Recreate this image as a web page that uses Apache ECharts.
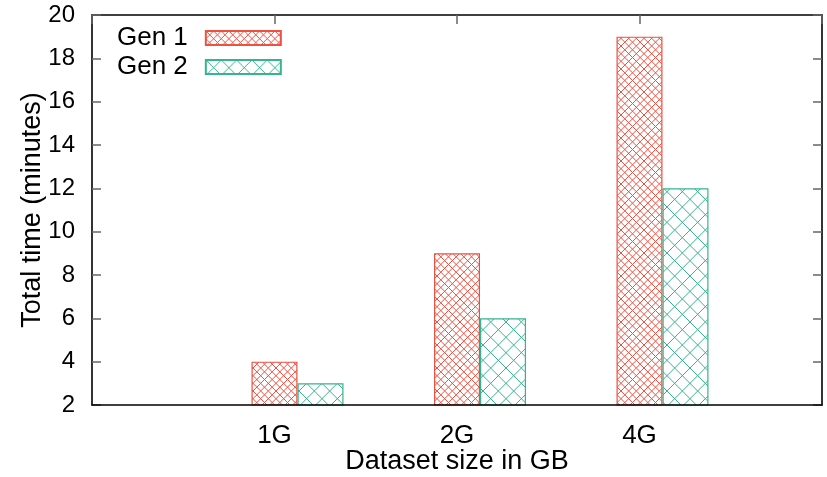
<!DOCTYPE html>
<html>
<head>
<meta charset="utf-8">
<script src="https://cdn.jsdelivr.net/npm/echarts@6/dist/echarts.min.js"></script>
<style>
  html, body { margin: 0; padding: 0; background: #fff; }
  #chart { width: 827px; height: 477px; }
</style>
</head>
<body>
<div id="chart"></div>
<script>
// data
const categories = ['1G', '2G', '4G'];
const gen1Values = [4, 9, 19];
const gen2Values = [3, 6, 12];
const yTicks = { min: 2, max: 20, step: 2 };

const RED = '#ee5041';
const GREEN = '#35b48e';
const FONT = '"Liberation Sans", Arial, Helvetica, sans-serif';

// empty slot on each side so the categories sit at 1/4, 2/4, 3/4 of the width
const axisData = [''].concat(categories, ['']);
const pad = arr => ['-'].concat(arr, ['-']);

// crosshatch tile, `reps` periods per tile so it wraps cleanly
function hatch (color, period, reps) {
  const size = Math.round(period * reps);
  const c = document.createElement('canvas');
  c.width = size;
  c.height = size;
  const ctx = c.getContext('2d');
  ctx.strokeStyle = color;
  ctx.lineWidth = 1;
  for (let k = -reps; k <= reps; k++) {
    const o = k * size / reps;
    ctx.beginPath(); ctx.moveTo(o, 0); ctx.lineTo(o + size, size); ctx.stroke();
    ctx.beginPath(); ctx.moveTo(o, size); ctx.lineTo(o + size, 0); ctx.stroke();
  }
  return c;
}

const chart = echarts.init(document.getElementById('chart'));

const frameLine = { show: true, lineStyle: { color: '#000', width: 1.6 } };
const innerTick = { show: true, inside: true, length: 9, lineStyle: { color: '#666', width: 1.5 } };

chart.setOption({
  animation: false,
  backgroundColor: '#fff',
  textStyle: { fontFamily: FONT, color: '#000' },
  grid: { left: 92, right: 5, top: 15, bottom: 72, outerBoundsMode: 'none' },
  legend: {
    data: ['Gen 1', 'Gen 2'],
    orient: 'vertical',
    left: 117,
    top: 25,
    padding: 0,
    itemGap: 3,
    align: 'right',
    icon: 'rect',
    itemWidth: 75,
    itemHeight: 14,
    textStyle: { fontSize: 26, fontFamily: FONT, color: '#000', padding: [0, 13, 0, 0] }
  },
  xAxis: [
    {
      type: 'category',
      data: axisData,
      boundaryGap: false,
      position: 'bottom',
      z: 3,
      axisLine: frameLine,
      axisTick: { show: false },
      axisLabel: { interval: 0, fontSize: 26, margin: 18, color: '#000' },
      splitLine: { show: false },
      name: 'Dataset size in GB',
      nameLocation: 'middle',
      nameMoveOverlap: false,
      nameGap: 43,
      nameTextStyle: { fontSize: 27, color: '#000' }
    },
    {
      type: 'category',
      data: axisData,
      boundaryGap: false,
      position: 'top',
      axisLine: frameLine,
      axisTick: Object.assign({ interval: 0 }, innerTick),
      axisLabel: { show: false },
      splitLine: { show: false }
    }
  ],
  yAxis: [
    {
      type: 'value',
      min: yTicks.min,
      max: yTicks.max,
      interval: yTicks.step,
      position: 'left',
      axisLine: frameLine,
      axisTick: innerTick,
      axisLabel: { fontSize: 24, margin: 17, color: '#000' },
      splitLine: { show: false },
      name: 'Total time (minutes)',
      nameLocation: 'middle',
      nameMoveOverlap: false,
      nameGap: 46,
      nameTextStyle: { fontSize: 27, color: '#000' }
    },
    {
      type: 'value',
      min: yTicks.min,
      max: yTicks.max,
      interval: yTicks.step,
      position: 'right',
      axisLine: frameLine,
      axisTick: innerTick,
      axisLabel: { show: false },
      splitLine: { show: false }
    }
  ],
  series: [
    {
      // empty slot to the left so Gen 1 is centred on the tick
      name: 'spacer',
      type: 'bar',
      data: [],
      barWidth: 46,
      barGap: '0%',
      silent: true
    },
    {
      name: 'Gen 1',
      type: 'bar',
      data: pad(gen1Values),
      barWidth: 46,
      barGap: '0%',
      itemStyle: {
        color: { image: hatch(RED, 23 / 3, 3), repeat: 'repeat' },
        borderColor: RED,
        borderWidth: 1.2
      }
    },
    {
      name: 'Gen 2',
      type: 'bar',
      data: pad(gen2Values),
      barWidth: 46,
      barGap: '0%',
      itemStyle: {
        color: { image: hatch(GREEN, 46 / 3, 3), repeat: 'repeat' },
        borderColor: GREEN,
        borderWidth: 1.2
      }
    }
  ]
});
</script>
</body>
</html>
